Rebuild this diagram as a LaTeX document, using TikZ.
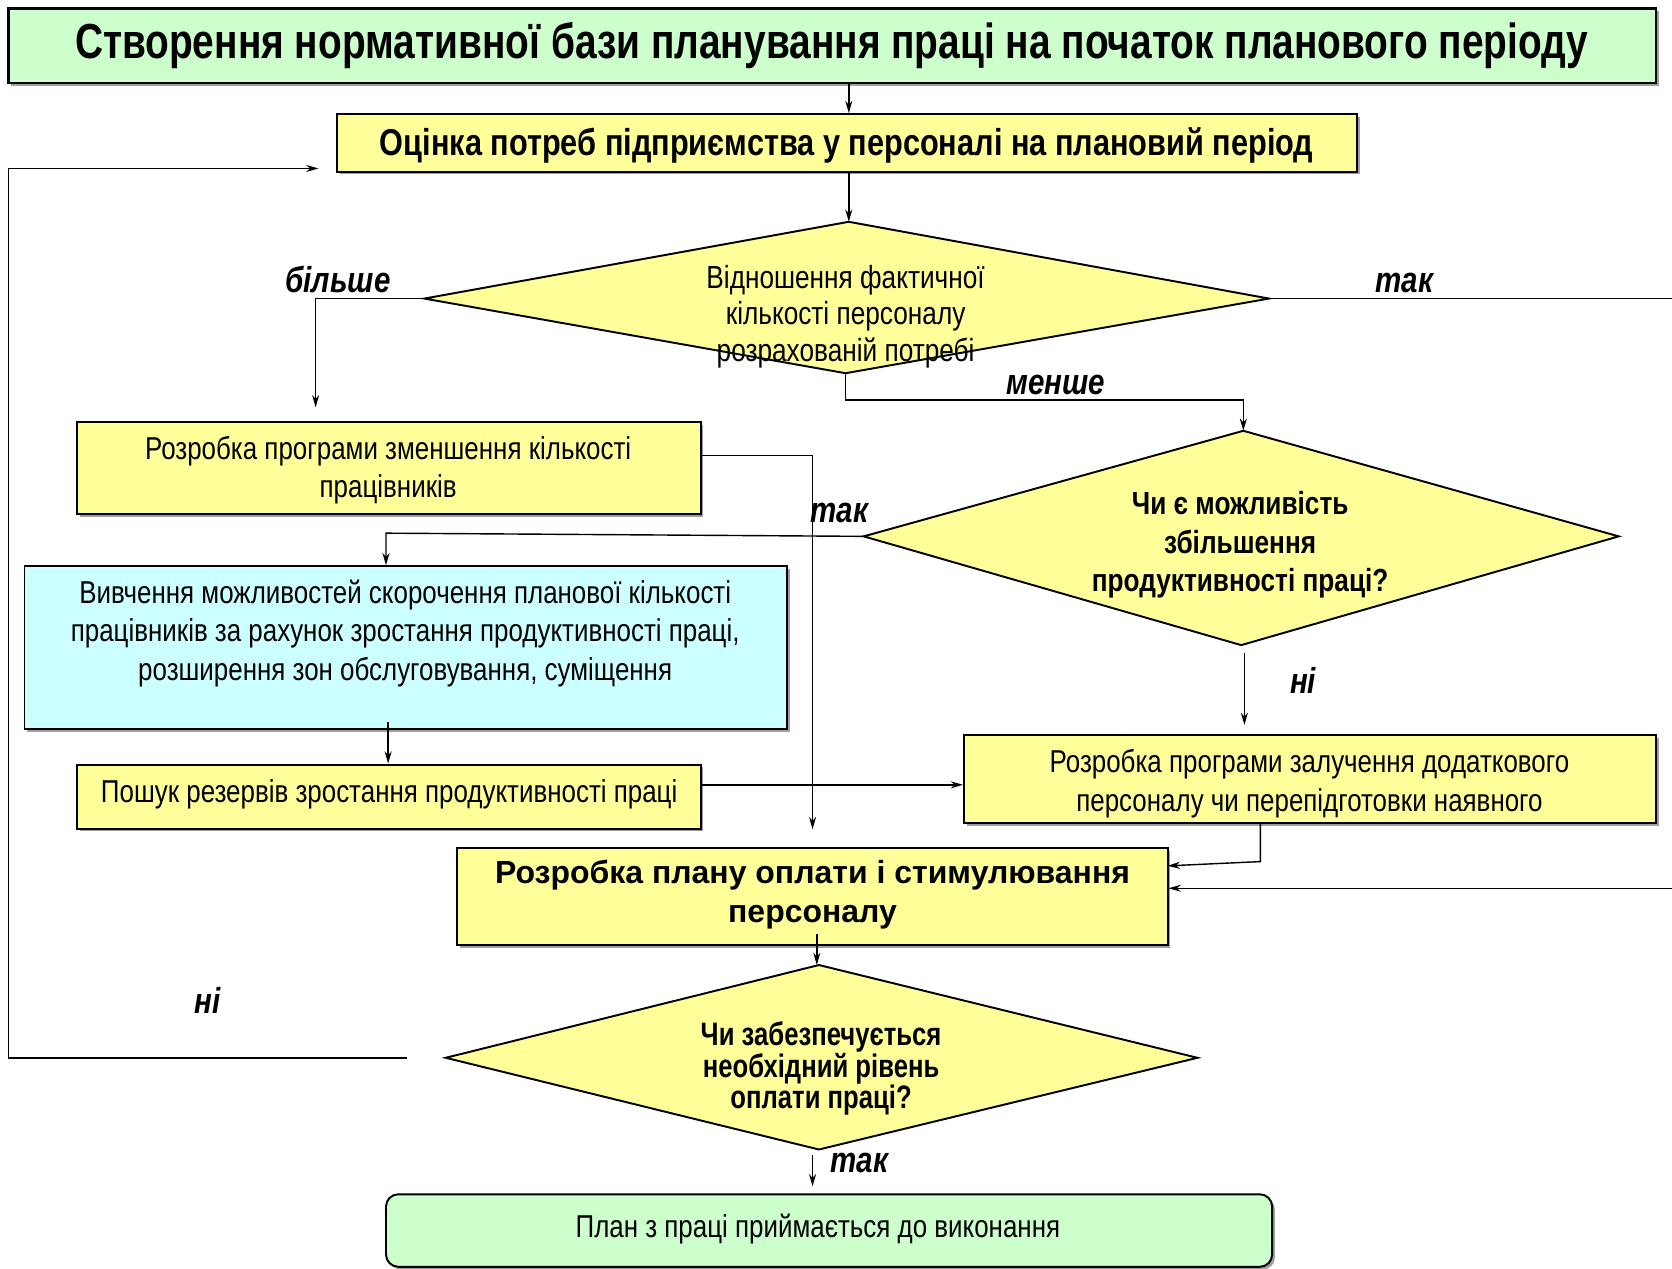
\documentclass[tikz,border=0pt]{standalone}
\usepackage{fontspec}
\setmainfont{Liberation Sans}
\newfontfamily\narrow[FakeStretch=0.82]{Liberation Sans}
\newfontfamily\narrowT[FakeStretch=0.79]{Liberation Sans}
\usetikzlibrary{arrows.meta,fit,shadows}
\definecolor{ylw}{HTML}{FFFF99}
\definecolor{grn}{HTML}{CCFFCC}
\definecolor{cyn}{HTML}{CCFFFF}
\begin{document}
\begin{tikzpicture}[x=0.02133cm, y=-0.02133cm,
  box/.style={draw=black, line width=1.1pt, fill=ylw, inner sep=0pt,
    drop shadow={shadow xshift=1.6pt, shadow yshift=-1.6pt, opacity=0.75}},
  dia/.style={draw=black, line width=1.1pt, fill=ylw},
  conn/.style={draw=black, line width=0.8pt},
  arr/.style={conn, -{Stealth[length=7pt,width=4pt]}},
  lbl/.style={font=\narrow\bfseries\itshape\fontsize{20.5}{24}\selectfont, inner sep=0pt},
  txt/.style={font=\narrow\fontsize{18}{21.8}\selectfont, align=center, inner sep=0pt},
]
\useasboundingbox (0,0) rectangle (1568,1190);
\fill[white] (0,0) rectangle (1568,1190);

% boxes
\node[box, fill=grn, line width=1.3pt, fit={(8,8) (1553,78)}] (t) {};
\node[font=\narrowT\bfseries\fontsize{28}{32}\selectfont, inner sep=0pt] (tt) at (780,43) {Створення нормативної бази планування праці на початок планового періоду};
\node[box, fit={(316,107) (1273,161)}] (b2) {};
\node[font=\narrow\bfseries\fontsize{21.3}{25}\selectfont, inner sep=0pt] (b2t) at (794,136) {Оцінка потреб підприємства у персоналі на плановий період};
\node[box, fit={(72,396) (657,482)}] (b3) {};
\node[txt] (b3t) at (364,441) {Розробка програми зменшення кількості\\працівників};
\node[box, fill=cyn, fit={(23,531) (738,684)}] (b4) {};
\node[txt] (b4t) at (380,594) {Вивчення можливостей скорочення планової кількості\\працівників за рахунок зростання продуктивності праці,\\розширення зон обслуговування, суміщення};
\node[box, fit={(72,717) (657,777)}] (b5) {};
\node[txt] (b5t) at (365,745) {Пошук резервів зростання продуктивності праці};
\node[box, fit={(904,689) (1553,772)}] (b6) {};
\node[txt] (b6t) at (1228,735) {Розробка програми залучення додаткового\\персоналу чи перепідготовки наявного};
\node[box, fit={(429,795) (1095,886)}] (b7) {};
\node[font=\bfseries\fontsize{18.2}{21.8}\selectfont, align=center, inner sep=0pt] (b7t) at (762,839) {Розробка плану оплати і стимулювання\\персоналу};
\node[box, fill=grn, rounded corners=7pt, fit={(362,1120) (1193,1188)}] (b8) {};
\node[txt] (b8t) at (767,1153) {План з праці приймається до виконання};

% diamond 1
\coordinate (d1n) at (796,208);
\coordinate (d1w) at (398,280);
\coordinate (d1e) at (1190,280);
\coordinate (d1s) at (793,350);
\filldraw[dia] (d1n) -- (d1e) -- (d1s) -- (d1w) -- cycle;
\node[txt, font=\narrow\fontsize{18.2}{20.6}\selectfont] (d1) at (793,297) {Відношення фактичної\\кількості персоналу\\розрахованій потребі};

% diamond 2
\coordinate (d2n) at (1166,404);
\coordinate (d2w) at (810,503);
\coordinate (d2e) at (1518,503);
\coordinate (d2s) at (1164,605);
\filldraw[dia] (d2n) -- (d2e) -- (d2s) -- (d2w) -- cycle;
\node[txt, font=\narrow\bfseries\fontsize{18.2}{21.8}\selectfont] (d2) at (1163,511) {Чи є можливість\\збільшення\\продуктивності праці?};

% diamond 3
\coordinate (d3n) at (768,905);
\coordinate (d3w) at (418,992);
\coordinate (d3e) at (1123,992);
\coordinate (d3s) at (768,1078);
\filldraw[dia] (d3n) -- (d3e) -- (d3s) -- (d3w) -- cycle;
\node[txt, font=\narrowT\bfseries\fontsize{18.5}{18.2}\selectfont] (d3) at (770,1002) {Чи забезпечується\\необхідний рівень\\оплати праці?};

% helper coordinates
\coordinate (c1) at (296,280);
\coordinate (c2) at (1166,375);
\coordinate (c3) at (762,427);
\coordinate (c4) at (362,500);
\coordinate (c5) at (364,677);
\coordinate (c6) at (700,736);
\coordinate (c7) at (1167,612);
\coordinate (c8) at (1182,808);
\coordinate (c9) at (1095,812);
\coordinate (c10) at (766,876);
\coordinate (c11) at (762,1083);
\coordinate (c12) at (8,992);
\coordinate (c13) at (8,158);
\coordinate (er1) at (1568,280);
\coordinate (er2) at (1568,833);

% connectors
\draw[arr] (t.south -| d1n) -- (b2.north -| d1n);
\draw[arr] (b2.south -| d1n) -- (d1n);
\draw[arr, shorten >=8pt] (d1w) -- (c1) -- (c1 |- b3.north);
\draw[conn] (d1e) -- (er1);
\draw[arr] (d1s) |- (c2) -- (d2n);
\draw[arr, shorten >=10pt] (b3.east |- c3) -- (c3) -- (c3 |- b7.north);
\draw[arr] (d2w) -- (c4) -- (c4 |- b4.north);
\draw[arr] (c5) -- (c5 |- b5.north);
\draw[arr] (b5.east |- c6) -- (b6.west |- c6);
\draw[arr, shorten >=5pt] (c7) -- (c7 |- b6.north);
\draw[arr] (b6.south -| c8) -- (c8) -- (c9);
\draw[arr] (er2) -- (er2 -| b7.east);
\draw[arr] (c10) -- (c10 |- d3n);
\draw[arr, shorten >=4pt] (c11) -- (c11 |- b8.north);
\draw[arr, shorten <=22pt, shorten >=10pt] (d3w) -- (c12) -- (c13) -- (c13 -| b2.west);

% labels
\node[lbl] (l1) at (317,262) {більше};
\node[lbl] (l2) at (1317,265) {так};
\node[lbl] (l3) at (990,361) {менше};
\node[lbl] (l4) at (787,481) {так};
\node[lbl] (l5) at (1222,638) {ні};
\node[lbl] (l6) at (195,938) {ні};
\node[lbl] (l7) at (806,1091) {так};
\end{tikzpicture}
\end{document}
